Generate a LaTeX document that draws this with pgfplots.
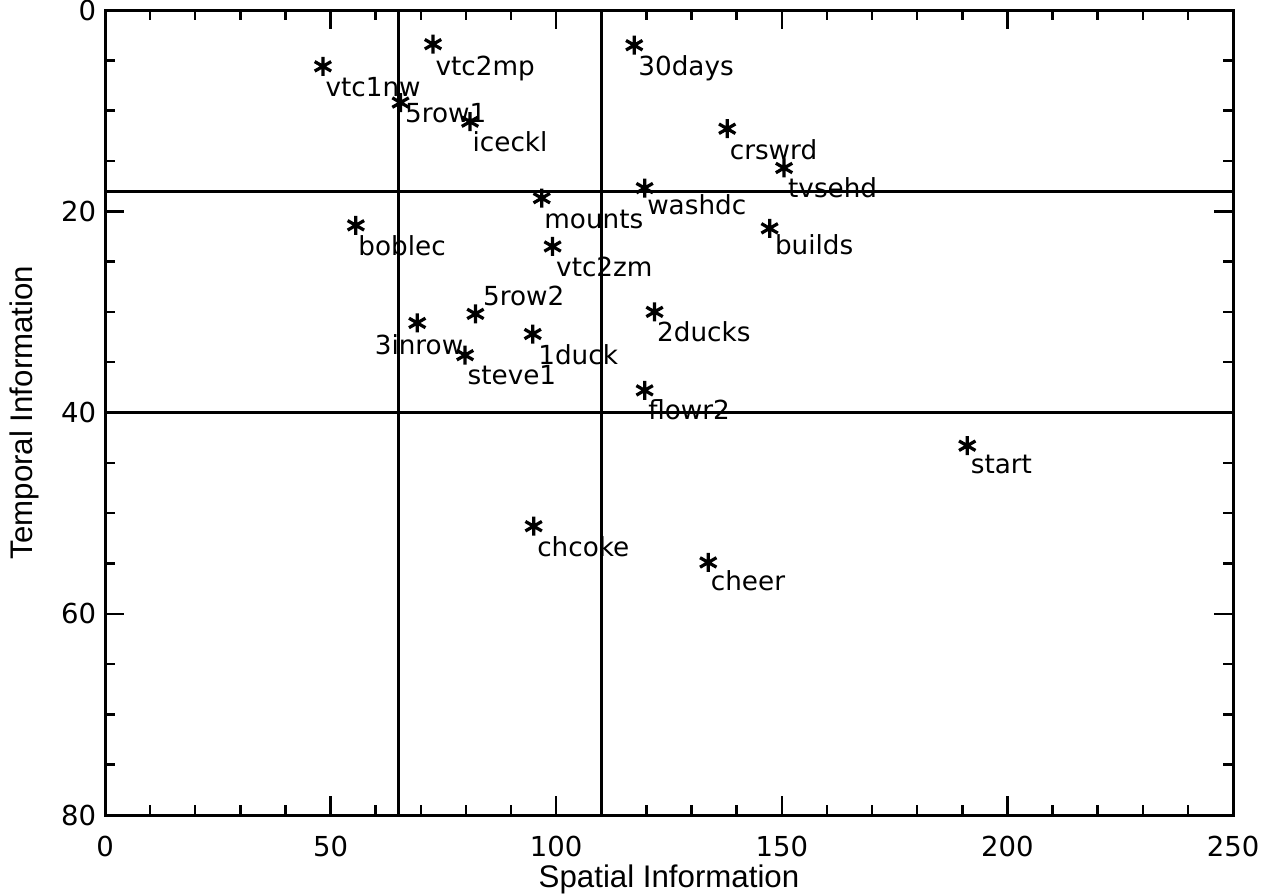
\documentclass[border=0pt]{standalone}
\usepackage{fontspec}
\setmainfont{DejaVu Sans}
\newfontfamily\labelfont{Liberation Sans}
\usepackage{pgfplots}
\usepackage{pgfplotstable}
\pgfplotsset{compat=1.18}

% spatial / temporal information per sequence; dx, dy = label offset in pt
\pgfplotstableread{
x     y    dx    dy     name
48.3  5.6  0.4   -12    vtc1nw
72.7  3.4  0.4   -12.5  vtc2mp
117.3 3.5  1.0   -12    30days
65.5  9.2  1.2   -8     5row1
80.9  11.1 0.4   -12    iceckl
137.9 11.8 0.4   -12.5  crswrd
150.5 15.7 1.0   -12    tvsehd
119.6 17.7 0.4   -10.5  washdc
96.8  18.7 0.4   -12    mounts
55.6  21.4 0.4   -12    boblec
147.3 21.7 1.5   -10.5  builds
99.2  23.5 0.8   -12    vtc2zm
82.1  30.2 2.4   3.2    5row2
69.2  31.1 -17.6 -12.8  3inrow
121.8 30.0 0.4   -12    2ducks
94.8  32.2 1.6   -12    1duck
79.8  34.3 0.4   -11.6  steve1
119.6 37.8 0.8   -11.6  flowr2
191.1 43.3 0.8   -11.2  start
95.0  51.3 0.8   -12    chcoke
133.7 54.9 0.4   -11.2  cheer
}\seqdata

\begin{document}
\begin{tikzpicture}
\useasboundingbox (-42pt,-32pt) rectangle (468pt,326pt);
\begin{axis}[
  at={(0pt,0pt)}, anchor=south west,
  scale only axis,
  width=451.2pt, height=322pt,
  xmin=0, xmax=250, ymin=0, ymax=80,
  y dir=reverse,
  xtick={0,50,...,250}, ytick={0,20,...,80},
  minor x tick num=4, minor y tick num=3,
  major tick length=7.5pt, minor tick length=4pt,
  tick style={line width=1pt, black},
  axis line style={line width=1.2pt},
  tick label style={font=\fontsize{11}{13}\selectfont},
  xticklabel style={yshift=-5pt},
  /pgf/number format/assume math mode=true,
  clip=false,
]
\addplot[line width=1.1pt] coordinates {(0,18) (250,18)};
\addplot[line width=1.1pt] coordinates {(0,40) (250,40)};
\addplot[line width=1.1pt] coordinates {(65,0) (65,80)};
\addplot[line width=1.1pt] coordinates {(110,0) (110,80)};
\addplot[
  only marks, mark=asterisk, mark size=3.8pt,
  mark options={line width=1.3pt, black},
  point meta=explicit symbolic,
  visualization depends on={\thisrow{dx}\as\lblx},
  visualization depends on={\thisrow{dy}\as\lbly},
  nodes near coords,
  nodes near coords style={anchor=base west, inner sep=0pt,
    xshift=\lblx pt, yshift=\lbly pt, black,
    font=\fontsize{10.5}{12}\selectfont},
] table[x=x, y=y, meta=name] {\seqdata};
\end{axis}
\node[anchor=base, font=\labelfont\fontsize{12.5}{14}\selectfont]
  at (225.6pt,-29pt) {Spatial Information};
\node[anchor=base, rotate=90, font=\labelfont\fontsize{12.5}{14}\selectfont]
  at (-29pt,161pt) {Temporal Information};
\end{tikzpicture}
\end{document}
